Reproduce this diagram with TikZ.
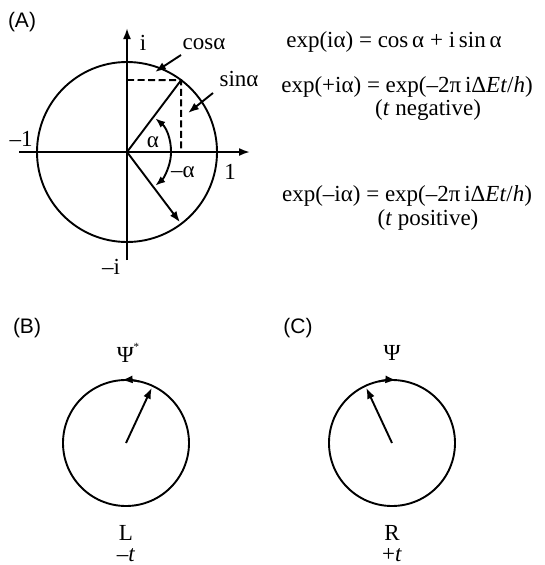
\documentclass[tikz,border=0pt]{standalone}
\usepackage{fontspec}
\setmainfont{Liberation Serif}
\newfontfamily\panelfont{Liberation Sans}
\usetikzlibrary{arrows.meta,calc}

\begin{document}
\begin{tikzpicture}[x=1pt, y=-1pt, line width=1.9pt,
	txt/.style={font=\fontsize{23}{27}\selectfont, inner sep=0pt},
	panel/.style={font=\panelfont\fontsize{21}{24}\selectfont, inner sep=0pt},
	vec/.style={-{Latex[length=11pt,width=8pt]}},
	guide/.style={dashed, dash pattern=on 7pt off 3.5pt}]
	\useasboundingbox (0,0) rectangle (545,565);
	% (A): unit circle
	\coordinate (O) at (127,152);
	\draw (O) circle (90);
	\draw[vec] (19,152) -- (250,152);
	\draw[vec] (127,260) -- (127,28);
	\coordinate (P) at ($(O)+(-53:90)$);
	\coordinate (Q) at ($(O)+(53:88)$);
	\draw (O) -- (P);
	\draw[guide] (127,80) -- (P) -- (P |- O);
	\draw[vec] (O) -- (Q);
	\draw[{Latex[length=10pt,width=7.5pt]}-{Latex[length=10pt,width=7.5pt]}] ($(O)+(-50:44)$) arc (-50:50:44);
	\node[txt] (i) at (143,43) {i};
	\node[txt] (mi) at (111,267) {–i};
	\node[txt] (m1) at (21,139) {–1};
	\node[txt] (one) at (230,172) {1};
	\node[txt] (al) at (153,142) {α};
	\node[txt] (mal) at (183,172) {–α};
	\node[txt] (cos) at (204,44) {cosα};
	\node[txt] (sin) at (239,79) {sinα};
	\coordinate (cosT) at (155,72);
	\coordinate (sinT) at (188,113);
	\draw[vec] (181,55) -- (cosT);
	\draw[vec] (213,93) -- (sinT);
	\node[panel] (A) at (22,22) {(A)};
	% equations
	\node[txt] (eq1) at (394,42) {exp(iα) = cos\,α + i\,sin\,α};
	\node[txt] (eq2) at (407,87) {exp(+iα) = exp(–2π\,iΔ\textit{Et}/\textit{h})};
	\node[txt] (neg) at (428,110) {(\textit{t} negative)};
	\node[txt] (eq3) at (407,196) {exp(–iα) = exp(–2π\,iΔ\textit{Et}/\textit{h})};
	\node[txt] (pos) at (428,220) {(\textit{t} positive)};
	% (B) and (C)
	\coordinate (cB) at (126,443);
	\coordinate (cC) at (392,443);
	\foreach \c/\a/\b/\v in {cB/-78/-94/-65, cC/-102/-86/-115} {
		\draw (\c) circle (63);
		\draw[vec] ($(\c)+(\a:63)$) arc (\a:\b:63);
		\draw[vec] (\c) -- ($(\c)+(\v:61)$);
	}
	\node[panel] (B) at (27,328) {(B)};
	\node[panel] (C) at (298,328) {(C)};
	\node[txt] (psiB) at (128,353) {Ψ\raisebox{1.1ex}{\fontsize{11}{11}\selectfont *}};
	\node[txt] (psiC) at (392,353) {Ψ};
	\node[txt] (L) at (126,533) {L};
	\node[txt] (mt) at (126,555) {–\textit{t}};
	\node[txt] (R) at (392,533) {R};
	\node[txt] (pt) at (392,555) {+\textit{t}};
\end{tikzpicture}
\end{document}
